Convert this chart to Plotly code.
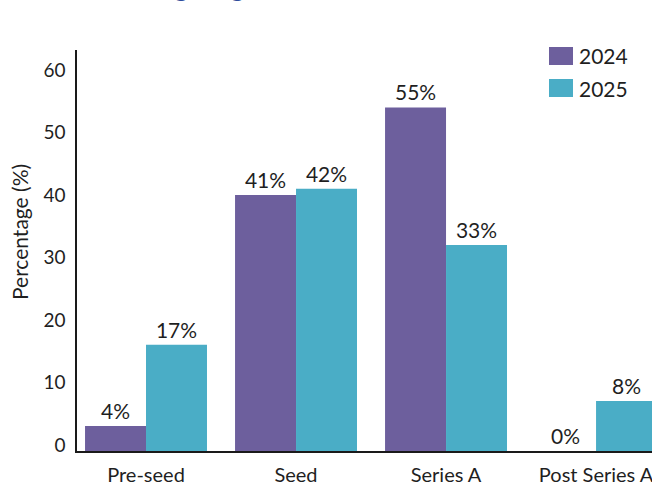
import plotly.graph_objects as go

# Funding stage shares by year
stages = ["Pre-seed", "Seed", "Series A", "Post Series A"]
years = ["2024", "2025"]
share_2024 = [4, 41, 55, 0]
share_2025 = [17, 42, 33, 8]
colors = ["#6D5F9D", "#4AADC6"]
y_ticks = [0, 10, 20, 30, 40, 50, 60]

FONT = "Lato, Open Sans, sans-serif"
TEXT = "#1f1f1f"

fig = go.Figure()
for name, vals, col in zip(years, [share_2024, share_2025], colors):
    fig.add_trace(go.Bar(
        x=stages, y=vals, name=name, marker=dict(color=col, line=dict(width=0)),
        texttemplate="%{y}%", textposition="outside",
        textfont=dict(family=FONT, size=21, color=TEXT),
        cliponaxis=False, showlegend=False,
    ))

# legend swatches and labels in the upper right
for i, (name, col) in enumerate(zip(years, colors)):
    top = 1.0 - (i * 32 - 3) / 401
    fig.add_shape(type="rect", xref="paper", yref="paper",
                  x0=(549 - 77) / 575, x1=(573 - 77) / 575,
                  y0=top - 18 / 401, y1=top, fillcolor=col, line=dict(width=0))
    fig.add_annotation(text=name, xref="paper", yref="paper",
                       x=(577 - 77) / 575, y=top - 9 / 401, xanchor="left", yanchor="middle",
                       showarrow=False, font=dict(family=FONT, size=21, color=TEXT))

# heading, mostly above the visible area
fig.add_annotation(text="Fundraising Stages", xref="paper", yref="paper",
                   x=(54 - 77) / 575, y=(451 - 4) / 401, xanchor="left", yanchor="bottom",
                   showarrow=False, font=dict(family="Noto Sans, sans-serif", size=24, color="#2E4C9C"))

fig.add_annotation(text="Percentage (%)", xref="paper", yref="paper",
                   x=(19 - 77) / 575, y=(451 - 232) / 401, xanchor="center", yanchor="middle",
                   textangle=-90, showarrow=False, font=dict(family=FONT, size=21, color=TEXT))

fig.update_layout(
    width=652, height=483,
    margin=dict(l=77, r=0, t=50, b=32, autoexpand=False),
    paper_bgcolor="white", plot_bgcolor="white",
    barmode="group", bargap=0.187, bargroupgap=0,
    font=dict(family=FONT, color=TEXT),
)
fig.update_xaxes(
    range=[-0.46, 3.373], showline=True, linecolor="#1a1a1a", linewidth=1.5,
    showgrid=False, ticks="", tickfont=dict(family=FONT, size=20, color=TEXT),
    ticklabelstandoff=5, automargin=False,
)
fig.update_yaxes(
    range=[0, 64.2], tickvals=y_ticks, showline=True, linecolor="#1a1a1a", linewidth=1.5,
    showgrid=False, zeroline=False, ticks="", tickfont=dict(family=FONT, size=19, color=TEXT),
    ticklabelshift=-6, ticklabelstandoff=6, automargin=False,
)

fig.write_html("out.html")
